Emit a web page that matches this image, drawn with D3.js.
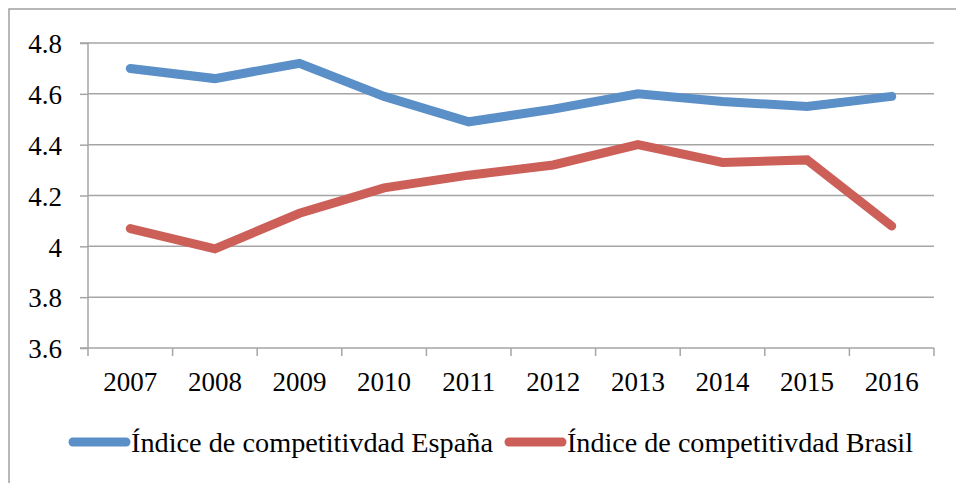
<!DOCTYPE html>
<html><head><meta charset="utf-8">
<script src="https://cdn.jsdelivr.net/npm/d3@7"></script>
<style>html,body{margin:0;padding:0;background:#fff;overflow:hidden}</style>
</head><body><svg id="c" width="956" height="483"></svg>
<script>
const years = ["2007","2008","2009","2010","2011","2012","2013","2014","2015","2016"];
const espana = [4.70,4.66,4.72,4.59,4.49,4.54,4.60,4.57,4.55,4.59];
const brasil = [4.07,3.99,4.13,4.23,4.28,4.32,4.40,4.33,4.34,4.08];
const yTicks = [3.6,3.8,4.0,4.2,4.4,4.6,4.8];
const seriesNames = ["Índice de competitivdad España","Índice de competitivdad Brasil"];
const colors = ["#5b8fc8","#cc6059"];

const svg = d3.select("#c");
const font = "'Liberation Serif','Times New Roman',serif";
const grid = "#a5a5a5";

svg.append("rect").attr("x",9).attr("y",9).attr("width",980).attr("height",520)
  .attr("fill","none").attr("stroke","#a0a0a0").attr("stroke-width",1.5);

const L=88, R=934, T=43, B=348;
const x = d3.scaleBand().domain(years).range([L,R]);
const y = d3.scaleLinear().domain([3.6,4.8]).range([B,T]);

// gridlines
svg.append("g").selectAll("line").data(yTicks.filter(v=>v>3.6)).join("line")
  .attr("x1",L).attr("x2",R).attr("y1",d=>y(d)).attr("y2",d=>y(d))
  .attr("stroke",grid).attr("stroke-width",1.5);

// y axis
const ya = svg.append("g").attr("transform",`translate(${L},0)`)
  .call(d3.axisLeft(y).tickValues(yTicks).tickSize(8).tickPadding(18).tickFormat(d=>d3.format("")(+d.toFixed(1))));
ya.select(".domain").attr("stroke",grid).attr("stroke-width",1.5).attr("d",`M-8,${T}H0V${B}H-8`);
ya.selectAll(".tick line").attr("stroke",grid).attr("stroke-width",1.5);
ya.selectAll("text").attr("font-family",font).attr("font-size",27).attr("fill","#000").attr("dy","0.36em");

// x axis
const xa = svg.append("g").attr("transform",`translate(0,${B})`)
  .call(d3.axisBottom(x).tickSize(0).tickPadding(24));
xa.select(".domain").remove();
xa.selectAll("text").attr("font-family",font).attr("font-size",27).attr("fill","#000");
svg.append("line").attr("x1",L).attr("x2",R).attr("y1",B).attr("y2",B).attr("stroke",grid).attr("stroke-width",1.5);
const bounds = years.map(d=>x(d)).concat([R]);
svg.append("g").selectAll("line").data(bounds).join("line")
  .attr("x1",d=>d).attr("x2",d=>d).attr("y1",B).attr("y2",B+8)
  .attr("stroke",grid).attr("stroke-width",1.5);

// lines
const line = d3.line().x((d,i)=>x(years[i])+x.bandwidth()/2).y(d=>y(d));
[espana,brasil].forEach((s,k)=>{
  svg.append("path").datum(s).attr("d",line).attr("fill","none")
    .attr("stroke",colors[k]).attr("stroke-width",9)
    .attr("stroke-linecap","round").attr("stroke-linejoin","miter");
});

// legend
const legX = [69,505], legTextLen=[362,346];
seriesNames.forEach((n,k)=>{
  svg.append("line").attr("x1",legX[k]+4).attr("x2",legX[k]+57).attr("y1",442).attr("y2",442)
    .attr("stroke",colors[k]).attr("stroke-width",9).attr("stroke-linecap","round");
  svg.append("text").attr("x",legX[k]+62).attr("y",452).text(n)
    .attr("font-family",font).attr("font-size",28).attr("fill","#000")
    .attr("textLength",legTextLen[k]).attr("lengthAdjust","spacingAndGlyphs");
});
</script></body></html>
